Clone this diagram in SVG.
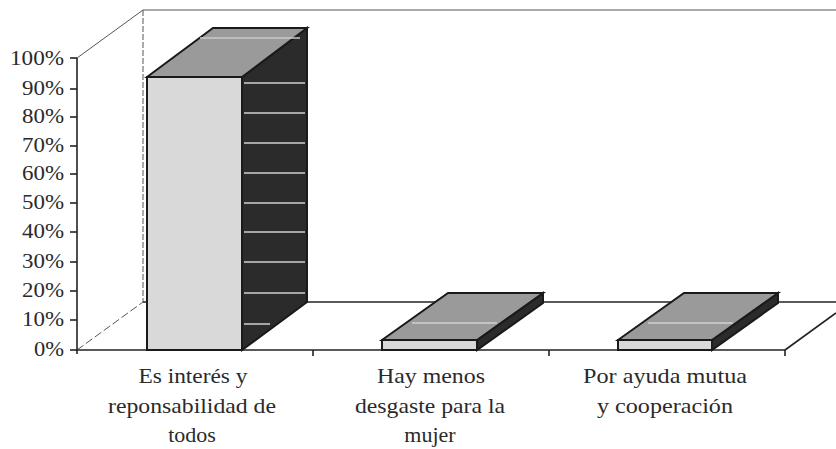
<svg xmlns="http://www.w3.org/2000/svg" width="836" height="449" viewBox="0 0 836 449">
<style>
.t{font-family:"Liberation Serif","Times New Roman","DejaVu Serif",serif;font-size:22px;fill:#2a2a2a}
.ya{font-family:"Liberation Serif","Times New Roman","DejaVu Serif",serif;font-size:20px;fill:#2a2a2a}
.ax{stroke:#222;stroke-width:1.6;fill:none}
.wall{stroke:#555;stroke-width:1;fill:none}
.front{fill:#d9d9d9;stroke:#1a1a1a;stroke-width:2}
.top{fill:#9a9a9a;stroke:#1a1a1a;stroke-width:2}
.side{fill:#2b2b2b;stroke:#1a1a1a;stroke-width:2}
.str{stroke:#d0d0d0;stroke-width:1.5}
</style>
<rect width="836" height="449" fill="#fff"/>
<g id="walls">
<line class="wall" x1="77" y1="58" x2="143" y2="10"/>
<line class="wall" x1="143" y1="10" x2="836" y2="10"/>
<line class="wall" x1="143" y1="10" x2="143" y2="302" stroke-dasharray="6 2"/>
<line class="wall" x1="77" y1="350" x2="143" y2="302" stroke-dasharray="8 3"/>
<line class="ax" x1="143" y1="302" x2="836" y2="302"/>
<line class="ax" x1="785" y1="350" x2="836" y2="313"/>
</g>
<g id="axis">
<line class="ax" x1="77" y1="58" x2="77" y2="354"/>
<line class="ax" x1="77" y1="350" x2="785" y2="350"/>
<g stroke="#222" stroke-width="1.6">
<line x1="70" y1="58" x2="77" y2="58"/><line x1="70" y1="89" x2="77" y2="89"/>
<line x1="70" y1="117" x2="77" y2="117"/><line x1="70" y1="146" x2="77" y2="146"/>
<line x1="70" y1="174" x2="77" y2="174"/><line x1="70" y1="203" x2="77" y2="203"/>
<line x1="70" y1="232" x2="77" y2="232"/><line x1="70" y1="262" x2="77" y2="262"/>
<line x1="70" y1="291" x2="77" y2="291"/><line x1="70" y1="320" x2="77" y2="320"/>
<line x1="70" y1="350" x2="77" y2="350"/>
<line x1="313" y1="350" x2="313" y2="356"/><line x1="549" y1="350" x2="549" y2="356"/>
<line x1="785" y1="350" x2="785" y2="356"/>
</g>
<g class="ya" text-anchor="end" lengthAdjust="spacingAndGlyphs">
<text x="64" y="65" textLength="54" lengthAdjust="spacingAndGlyphs">100%</text>
<text x="64" y="95" textLength="42" lengthAdjust="spacingAndGlyphs">90%</text>
<text x="64" y="123" textLength="42" lengthAdjust="spacingAndGlyphs">80%</text>
<text x="64" y="152" textLength="42" lengthAdjust="spacingAndGlyphs">70%</text>
<text x="64" y="180" textLength="42" lengthAdjust="spacingAndGlyphs">60%</text>
<text x="64" y="209" textLength="42" lengthAdjust="spacingAndGlyphs">50%</text>
<text x="64" y="238" textLength="42" lengthAdjust="spacingAndGlyphs">40%</text>
<text x="64" y="268" textLength="42" lengthAdjust="spacingAndGlyphs">30%</text>
<text x="64" y="297" textLength="42" lengthAdjust="spacingAndGlyphs">20%</text>
<text x="64" y="326" textLength="42" lengthAdjust="spacingAndGlyphs">10%</text>
<text x="64" y="356" textLength="30" lengthAdjust="spacingAndGlyphs">0%</text>
</g>
</g>
<g id="bar1">
<polygon class="side" points="242,77 307,28 307,302 242,350"/>
<g class="str">
<line x1="244" y1="83" x2="305" y2="83"/><line x1="244" y1="113" x2="305" y2="113"/>
<line x1="244" y1="143" x2="305" y2="143"/><line x1="244" y1="173" x2="305" y2="173"/>
<line x1="244" y1="203" x2="305" y2="203"/><line x1="244" y1="232" x2="305" y2="232"/>
<line x1="244" y1="262" x2="305" y2="262"/><line x1="244" y1="293" x2="305" y2="293"/>
<line x1="244" y1="324" x2="270" y2="324"/>
</g>
<polygon class="top" points="147,77 213,28 307,28 242,77"/>
<line x1="200" y1="38" x2="300" y2="38" stroke="#c8c8c8" stroke-width="1.5"/>
<rect class="front" x="147" y="77" width="95" height="273"/>
</g>
<g id="bar2">
<polygon class="side" points="477,340 543,293 543,303 477,350"/>
<polygon class="top" points="382,340 448,293 543,293 477,340"/>
<line x1="412" y1="323" x2="497" y2="323" stroke="#d0d0d0" stroke-width="1.5"/>
<rect class="front" x="382" y="340" width="95" height="10"/>
</g>
<g id="bar3">
<polygon class="side" points="712,340 778,293 778,303 712,350"/>
<polygon class="top" points="618,340 684,293 778,293 712,340"/>
<line x1="648" y1="323" x2="733" y2="323" stroke="#d0d0d0" stroke-width="1.5"/>
<rect class="front" x="618" y="340" width="94" height="10"/>
</g>
<g id="labels" class="t" text-anchor="middle">
<text x="193" y="383" textLength="109" lengthAdjust="spacingAndGlyphs">Es interés y</text>
<text x="192" y="413" textLength="168" lengthAdjust="spacingAndGlyphs">reponsabilidad de</text>
<text x="192" y="442">todos</text>
<text x="431" y="383" textLength="108" lengthAdjust="spacingAndGlyphs">Hay menos</text>
<text x="430" y="413" textLength="150" lengthAdjust="spacingAndGlyphs">desgaste para la</text>
<text x="430" y="442">mujer</text>
<text x="665" y="383" textLength="164" lengthAdjust="spacingAndGlyphs">Por ayuda mutua</text>
<text x="665" y="413" textLength="136" lengthAdjust="spacingAndGlyphs">y cooperación</text>
</g>
</svg>
